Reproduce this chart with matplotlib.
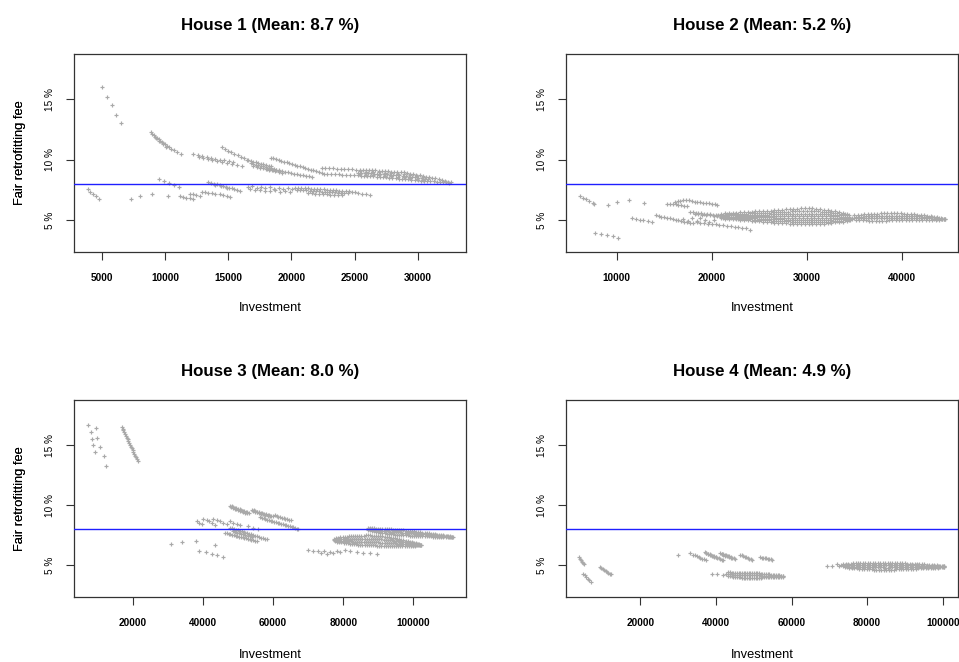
import matplotlib
matplotlib.use("Agg")
import matplotlib.pyplot as plt

plt.rcParams['font.family'] = ['Liberation Sans', 'DejaVu Sans']

# ---------------- titles / ticks ----------------
titles = ["House 1 (Mean: 8.7 %)", "House 2 (Mean: 5.2 %)",
          "House 3 (Mean: 8.0 %)", "House 4 (Mean: 4.9 %)"]
x_ticks = [[5000, 10000, 15000, 20000, 25000, 30000],
           [10000, 20000, 30000, 40000],
           [20000, 40000, 60000, 80000, 100000],
           [20000, 40000, 60000, 80000, 100000]]
y_ticks = [5, 10, 15]
y_tick_labels = ["5 %", "10 %", "15 %"]
reference_fee = 8.0

# ---------------- House 1 ----------------
h1_s1_x = [5000, 5400, 5790, 6130, 6530]
h1_s1_y = [15.99, 15.22, 14.50, 13.73, 13.07]
h1_s2_x = [3890, 4100, 4310, 4550, 4810]
h1_s2_y = [7.57, 7.35, 7.16, 6.99, 6.80]
h1_s3_x = [7300, 8030, 8980, 10270]
h1_s3_y = [6.77, 7.02, 7.18, 7.02]
h1_s4_x = [8880, 9000, 9120, 9250, 9380, 9500, 9620, 9750, 9880, 10000, 10150, 10300, 10500, 10700, 10950, 11300,
           9300, 9560, 9820, 10080]
h1_s4_y = [12.27, 12.15, 12.03, 11.92, 11.80, 11.69, 11.58, 11.47, 11.37, 11.27, 11.16, 11.05, 10.92, 10.80, 10.65, 10.47,
           11.77, 11.53, 11.31, 11.10]
h1_s5_x = [9560, 9950, 10350, 10750, 11140]
h1_s5_y = [8.43, 8.25, 8.08, 7.92, 7.76]
h1_s6_x = [11200, 11450, 11700, 11950, 12200, 12000, 12250, 12500, 12750]
h1_s6_y = [6.99, 6.93, 6.87, 6.83, 6.80, 7.21, 7.15, 7.08, 7.00]
h1_s8_x = [12910, 13200, 13440, 13700, 13970, 14360, 14620, 14890, 15150]
h1_s8_y = [7.35, 7.30, 7.27, 7.24, 7.21, 7.16, 7.10, 7.05, 6.96]
h1_s9_x = [12250, 12600, 12950, 13300, 13650, 14000, 14350, 14700, 15050, 15400,
           12700, 13050, 13400, 13750, 14100, 14500, 14900, 15300, 15700, 16100]
h1_s9_y = [10.47, 10.40, 10.33, 10.25, 10.18, 10.10, 10.02, 9.95, 9.87, 9.79,
           10.20, 10.12, 10.03, 9.95, 9.87, 9.78, 9.70, 9.62, 9.55, 9.48]
h1_s10_x = [14490, 14750, 15000, 15250, 15500, 15750, 16000, 16250, 16480]
h1_s10_y = [11.02, 10.88, 10.75, 10.62, 10.50, 10.37, 10.25, 10.12, 10.00]
h1_s11_x = [16600, 16800, 17000, 17200, 17400, 17600, 17800, 18000, 18200, 18400,
            16800, 17000, 17200, 17400, 17600, 17800, 18000, 18200, 18400, 18600, 18800, 19000,
            17000, 17250, 17500, 17750, 18000, 18250, 18500, 18750, 19000, 19250]
h1_s11_y = [9.95, 9.90, 9.84, 9.79, 9.73, 9.68, 9.62, 9.57, 9.51, 9.46,
            9.70, 9.65, 9.60, 9.55, 9.50, 9.45, 9.40, 9.35, 9.30, 9.25, 9.20, 9.15,
            9.45, 9.40, 9.35, 9.30, 9.25, 9.19, 9.13, 9.07, 9.01, 8.95]
h1_s12_x = [18370, 18580, 18790, 19000, 19210, 19420, 19640, 19850, 20060, 20270,
            20480, 20690, 20900, 21110, 21320, 21530, 21740, 21950, 22170, 22400]
h1_s12_y = [10.19, 10.12, 10.06, 9.99, 9.92, 9.86, 9.79, 9.72, 9.66, 9.59,
            9.52, 9.46, 9.39, 9.32, 9.26, 9.19, 9.12, 9.06, 8.99, 8.92]
h1_s13_x = [18050, 18290, 18520, 18760, 19000, 19240, 19470, 19710, 19950, 20180,
            20420, 20660, 20900, 21130, 21370, 21610]
h1_s13_y = [9.28, 9.23, 9.19, 9.14, 9.10, 9.05, 9.00, 8.96, 8.91, 8.87,
            8.82, 8.77, 8.73, 8.68, 8.64, 8.59]
h1_band_top_x = [22400, 22700, 23000, 23300, 23600, 23900, 24200, 24500, 24800, 25100,
                 25400, 25650, 25900, 26150, 26400, 26650, 26900, 27150, 27400, 27650,
                 27900, 28150, 28400, 28650, 28900, 29150, 29400, 29650, 29900, 30150,
                 30400, 30650, 30900, 31150, 31400, 31650, 31900, 32150, 32400, 32650]
h1_band_top_y = [9.35, 9.33, 9.32, 9.30, 9.28, 9.26, 9.25, 9.23, 9.21, 9.20,
                 9.18, 9.17, 9.15, 9.14, 9.13, 9.12, 9.10, 9.09, 9.07, 9.05,
                 9.03, 9.01, 9.00, 8.98, 8.96, 8.92, 8.87, 8.82, 8.77, 8.72,
                 8.67, 8.62, 8.57, 8.52, 8.47, 8.41, 8.34, 8.27, 8.20, 8.13]
h1_band_bot_x = [22550, 22850, 23150, 23450, 23750, 24050, 24350, 24650, 24950, 25250,
                 25500, 25750, 26000, 26250, 26500, 26750, 27000, 27250, 27500, 27750,
                 28000, 28250, 28500, 28750, 29000, 29250, 29500, 29750, 30000, 30250,
                 30500, 30750, 31000, 31250, 31500, 31750, 32000, 32250, 32500]
h1_band_bot_y = [8.86, 8.84, 8.82, 8.81, 8.79, 8.77, 8.75, 8.74, 8.72, 8.71,
                 8.69, 8.68, 8.66, 8.65, 8.63, 8.62, 8.60, 8.58, 8.55, 8.53,
                 8.50, 8.48, 8.45, 8.43, 8.40, 8.38, 8.35, 8.33, 8.30, 8.28,
                 8.27, 8.25, 8.23, 8.22, 8.20, 8.18, 8.16, 8.14, 8.12]
h1_band_mid_x = [25300, 25550, 25800, 26050, 26300, 26550, 26800, 27050, 27300, 27550,
                 27800, 28050, 28300, 28550, 28800, 29050, 29300, 29550, 29800, 30050,
                 30300, 30550, 30800]
h1_band_mid_y = [8.94, 8.93, 8.91, 8.90, 8.88, 8.87, 8.85, 8.84, 8.81, 8.79,
                 8.77, 8.75, 8.73, 8.71, 8.69, 8.66, 8.62, 8.58, 8.54, 8.50,
                 8.47, 8.44, 8.40]
h1_band_q_x = [25425, 25925, 26425, 26925, 27425, 27925, 28425, 28925, 29425, 29925, 30425]
h1_band_q1_y = [9.06, 9.03, 9.00, 8.97, 8.94, 8.90, 8.86, 8.82, 8.74, 8.65, 8.57]
h1_band_q3_y = [8.81, 8.78, 8.75, 8.72, 8.68, 8.64, 8.60, 8.55, 8.49, 8.42, 8.37]
h1_low_a_x = [16550, 16900, 17250, 17600, 17950, 18300, 18650, 19000, 19350, 19700, 20050]
h1_low_a_y = [7.72, 7.80, 7.70, 7.78, 7.66, 7.74, 7.62, 7.70, 7.60, 7.66, 7.58]
h1_low_b_x = [16700, 17100, 17500, 17900, 18300, 18700, 19100, 19500, 19900]
h1_low_b_y = [7.55, 7.48, 7.52, 7.45, 7.42, 7.48, 7.38, 7.44, 7.36]
h1_low_top_x = [20300, 20550, 20800, 21050, 21300, 21550, 21800, 22050, 22300, 22550,
                22800, 23050, 23300, 23550, 23800, 24050, 24300, 24550, 24800]
h1_low_top_y = [7.70, 7.68, 7.67, 7.65, 7.64, 7.62, 7.60, 7.59, 7.57, 7.55,
                7.53, 7.51, 7.49, 7.47, 7.45, 7.43, 7.41, 7.39, 7.37]
h1_low_mid_x = [20450, 20700, 20950, 21200, 21450, 21700, 21950, 22200, 22450, 22700,
                22950, 23200, 23450, 23700, 23950, 24200, 24450]
h1_low_mid_y = [7.52, 7.50, 7.49, 7.47, 7.45, 7.44, 7.42, 7.40, 7.38, 7.37,
                7.35, 7.33, 7.31, 7.29, 7.27, 7.25, 7.23]
h1_low_bot_x = [21300, 21600, 21900, 22200, 22500, 22800, 23100, 23400, 23700, 24000]
h1_low_bot_y = [7.25, 7.23, 7.21, 7.18, 7.16, 7.14, 7.12, 7.10, 7.08, 7.06]
h1_low_tail_x = [25000, 25300, 25600, 25900, 26200]
h1_low_tail_y = [7.30, 7.25, 7.20, 7.14, 7.08]
h1_s16_x = [13440, 13670, 13900, 14130, 14350, 14580, 14810, 15040, 15270, 15500, 15720, 15950,
            14000, 14450, 14900]
h1_s16_y = [8.18, 8.11, 8.04, 7.98, 7.91, 7.84, 7.77, 7.70, 7.63, 7.57, 7.50, 7.43,
            7.95, 7.82, 7.68]

# ---------------- House 2 ----------------
h2_g0_x = [6140, 6420, 6770, 7120, 7470, 7610]
h2_g0_y = [6.99, 6.88, 6.74, 6.60, 6.44, 6.33]
h2_g1_x = [9120, 10000, 11330, 12880]
h2_g1_y = [6.25, 6.52, 6.72, 6.39]
h2_g2_x = [7720, 8350, 8950, 9580, 10180]
h2_g2_y = [3.95, 3.87, 3.81, 3.70, 3.56]
h2_g3_x = [11580, 11980, 12400, 12800, 13250, 13690]
h2_g3_y = [5.18, 5.12, 5.06, 4.99, 4.92, 4.85]
h2_g4_x = [14100, 14400, 14700, 15000, 15300, 15600, 15900, 16200, 16500, 16800, 17100, 17400, 17700, 18000]
h2_g4_y = [5.40, 5.35, 5.30, 5.25, 5.20, 5.15, 5.10, 5.05, 5.00, 4.95, 4.90, 4.85, 4.80, 4.75]
h2_g5a_x = [16100, 16400, 16700, 17000, 17300, 17600, 17900, 18200, 18500, 18800, 19100, 19400, 19700, 20000, 20300, 20600]
h2_g5a_y = [6.50, 6.58, 6.63, 6.66, 6.70, 6.65, 6.58, 6.55, 6.52, 6.50, 6.47, 6.45, 6.42, 6.38, 6.33, 6.27]
h2_g5b_x = [15300, 15600, 15900, 16200, 16500, 16800, 17100, 17400]
h2_g5b_y = [6.38, 6.36, 6.34, 6.31, 6.28, 6.25, 6.22, 6.19]
h2_g6a_x = [17700, 18000, 18300, 18600, 18900, 19200, 19500, 19800, 20100, 20400, 20700, 21000, 21300, 21600]
h2_g6a_y = [5.69, 5.67, 5.64, 5.62, 5.59, 5.56, 5.53, 5.50, 5.47, 5.44, 5.41, 5.38, 5.35, 5.33]
h2_g6b_x = [18200, 18600, 19000, 19400, 19800, 20200, 20600, 21000]
h2_g6b_y = [5.55, 5.52, 5.48, 5.44, 5.40, 5.36, 5.32, 5.28]
h2_g7_x = [17000, 17500, 17900, 18400, 18800, 19300, 19700, 20200]
h2_g7_y = [5.10, 4.95, 5.18, 4.98, 5.22, 5.05, 4.85, 5.00]
h2_g8_x = [18400, 18800, 19200, 19600, 20000, 20400, 20800, 21200, 21600, 22000, 22400, 22800, 23200, 23600, 24040]
h2_g8_y = [4.85, 4.80, 4.76, 4.72, 4.69, 4.66, 4.62, 4.58, 4.54, 4.50, 4.46, 4.42, 4.38, 4.33, 4.24]
h2_lens_x = [21000, 21400, 21800, 22200, 22600, 23000, 23400, 23800, 24200, 24600,
             25000, 25400, 25800, 26200, 26600, 27000, 27400, 27800, 28200, 28600,
             29000, 29400, 29800, 30200, 30600, 31000, 31400, 31800, 32200, 32600,
             33000, 33400, 33800, 34200]
h2_lens_x2 = [21200, 21600, 22000, 22400, 22800, 23200, 23600, 24000, 24400, 24800,
              25200, 25600, 26000, 26400, 26800, 27200, 27600, 28000, 28400, 28800,
              29200, 29600, 30000, 30400, 30800, 31200, 31600, 32000, 32400, 32800,
              33200, 33600, 34000, 34400]
h2_lens_r1 = [5.55, 5.57, 5.59, 5.61, 5.63, 5.65, 5.67, 5.69, 5.71, 5.73,
              5.75, 5.77, 5.79, 5.81, 5.83, 5.85, 5.88, 5.90, 5.93, 5.95,
              5.97, 5.99, 6.00, 6.00, 5.98, 5.95, 5.92, 5.88, 5.84, 5.79,
              5.74, 5.68, 5.62, 5.55]
h2_lens_r2 = [5.48, 5.49, 5.50, 5.52, 5.53, 5.54, 5.56, 5.57, 5.58, 5.60,
              5.61, 5.62, 5.64, 5.65, 5.66, 5.68, 5.70, 5.71, 5.73, 5.74,
              5.76, 5.77, 5.78, 5.78, 5.76, 5.74, 5.72, 5.70, 5.67, 5.64,
              5.60, 5.56, 5.52, 5.48]
h2_lens_r3 = [5.40, 5.41, 5.42, 5.42, 5.43, 5.44, 5.44, 5.45, 5.46, 5.46,
              5.47, 5.48, 5.48, 5.49, 5.50, 5.50, 5.51, 5.52, 5.53, 5.54,
              5.54, 5.55, 5.55, 5.55, 5.55, 5.54, 5.53, 5.51, 5.50, 5.48,
              5.47, 5.45, 5.43, 5.40]
h2_lens_r4 = [5.30, 5.30, 5.31, 5.31, 5.32, 5.32, 5.33, 5.33, 5.33, 5.33,
              5.34, 5.34, 5.34, 5.34, 5.35, 5.35, 5.35, 5.35, 5.35, 5.35,
              5.35, 5.35, 5.35, 5.35, 5.35, 5.35, 5.34, 5.34, 5.33, 5.33,
              5.32, 5.31, 5.30, 5.30]
h2_low_x = [21200, 21600, 22000, 22400, 22800, 23200, 23600, 24000, 24400, 24800,
            25200, 25600, 26000, 26400, 26800, 27200, 27600, 28000, 28400, 28800,
            29200, 29600, 30000, 30400, 30800, 31200, 31600, 32000, 32400, 32800,
            33200, 33600, 34000, 34400, 34800]
h2_low_x2 = [21000, 21400, 21800, 22200, 22600, 23000, 23400, 23800, 24200, 24600,
             25000, 25400, 25800, 26200, 26600, 27000, 27400, 27800, 28200, 28600,
             29000, 29400, 29800, 30200, 30600, 31000, 31400, 31800, 32200, 32600,
             33000, 33400, 33800, 34200, 34600]
h2_low_r1 = [5.30, 5.30, 5.29, 5.29, 5.28, 5.28, 5.27, 5.27, 5.26, 5.26,
             5.25, 5.25, 5.24, 5.24, 5.23, 5.23, 5.22, 5.22, 5.21, 5.21,
             5.20, 5.20, 5.20, 5.20, 5.20, 5.20, 5.20, 5.20, 5.20, 5.20,
             5.20, 5.20, 5.20, 5.20, 5.20]
h2_low_r2 = [5.25, 5.24, 5.23, 5.22, 5.21, 5.20, 5.19, 5.18, 5.16, 5.15,
             5.14, 5.13, 5.11, 5.10, 5.09, 5.08, 5.07, 5.06, 5.05, 5.04,
             5.03, 5.02, 5.02, 5.02, 5.02, 5.03, 5.03, 5.04, 5.05, 5.06,
             5.07, 5.09, 5.10, 5.12, 5.13]
h2_low_r3 = [5.20, 5.19, 5.17, 5.16, 5.14, 5.12, 5.10, 5.08, 5.06, 5.04,
             5.02, 5.00, 4.99, 4.97, 4.95, 4.94, 4.92, 4.91, 4.89, 4.88,
             4.86, 4.85, 4.84, 4.84, 4.85, 4.85, 4.87, 4.88, 4.90, 4.92,
             4.95, 4.97, 5.00, 5.03, 5.07]
h2_low_r4 = [5.15, 5.13, 5.11, 5.09, 5.07, 5.04, 5.02, 4.99, 4.96, 4.93,
             4.91, 4.88, 4.86, 4.83, 4.81, 4.79, 4.77, 4.75, 4.73, 4.71,
             4.69, 4.67, 4.66, 4.66, 4.67, 4.68, 4.70, 4.72, 4.75, 4.78,
             4.82, 4.86, 4.90, 4.95, 5.00]
h2_rb_x = [35000, 35350, 35700, 36050, 36400, 36750, 37100, 37450, 37800, 38150,
           38500, 38850, 39200, 39550, 39900, 40250, 40600, 40950, 41300, 41650,
           42000, 42350, 42700, 43050, 43400, 43750, 44100, 44500]
h2_rb_x2 = [35175, 35525, 35875, 36225, 36575, 36925, 37275, 37625, 37975, 38325,
            38675, 39025, 39375, 39725, 40075, 40425, 40775, 41125, 41475, 41825,
            42175, 42525, 42875, 43225, 43575, 43925, 44275, 44550]
h2_rb_t = [5.40, 5.43, 5.46, 5.49, 5.51, 5.53, 5.55, 5.56, 5.57, 5.58,
           5.58, 5.58, 5.58, 5.58, 5.57, 5.56, 5.55, 5.53, 5.51, 5.48,
           5.45, 5.42, 5.38, 5.34, 5.29, 5.24, 5.18, 5.12]
h2_rb_m1 = [5.27, 5.29, 5.31, 5.32, 5.33, 5.35, 5.36, 5.37, 5.37, 5.38,
            5.38, 5.38, 5.39, 5.39, 5.38, 5.38, 5.37, 5.36, 5.35, 5.33,
            5.31, 5.29, 5.27, 5.24, 5.21, 5.18, 5.14, 5.11]
h2_rb_m2 = [5.15, 5.15, 5.15, 5.16, 5.16, 5.16, 5.17, 5.17, 5.18, 5.18,
            5.19, 5.19, 5.19, 5.19, 5.20, 5.19, 5.20, 5.19, 5.19, 5.18,
            5.18, 5.17, 5.16, 5.15, 5.14, 5.12, 5.11, 5.09]
h2_rb_b = [5.02, 5.01, 5.00, 4.99, 4.98, 4.98, 4.98, 4.98, 4.98, 4.98,
           4.99, 4.99, 5.00, 5.00, 5.01, 5.01, 5.02, 5.02, 5.03, 5.03,
           5.04, 5.04, 5.05, 5.05, 5.06, 5.06, 5.07, 5.08]

# ---------------- House 3 ----------------
h3_a1_x = [7250, 7920, 8300, 8590, 9060]
h3_a1_y = [16.66, 16.05, 15.50, 15.00, 14.39]
h3_a2_x = [9340, 9820, 10580, 11720, 12290]
h3_a2_y = [16.44, 15.61, 14.81, 14.09, 13.29]
h3_a3_x = [16770, 17010, 17250, 17490, 17730, 17970, 18210, 18450, 18690, 18930,
           19170, 19410, 19650, 19890, 20130, 20370, 20610, 20850, 21090, 21330]
h3_a3_y = [16.52, 16.37, 16.22, 16.07, 15.92, 15.77, 15.62, 15.47, 15.32, 15.17,
           15.02, 14.87, 14.72, 14.57, 14.42, 14.27, 14.12, 13.97, 13.82, 13.67]
h3_a4_x = [30750, 33890, 37890, 43400, 38930, 40740, 42550, 44070, 45590]
h3_a4_y = [6.77, 6.93, 7.04, 6.71, 6.16, 6.08, 5.94, 5.83, 5.66]
h3_seg1_x = [47700, 48150, 48600, 49050, 49500, 49950, 50400, 50850, 51300, 51750, 52200, 52650, 53100,
             48000, 48500, 49000, 49500, 50000, 50500, 51000, 51500, 52000, 52500]
h3_seg1_y = [9.94, 9.89, 9.84, 9.79, 9.74, 9.69, 9.64, 9.59, 9.54, 9.49, 9.44, 9.39, 9.34,
             9.82, 9.77, 9.71, 9.66, 9.60, 9.55, 9.49, 9.44, 9.38, 9.33]
h3_seg2_x = [53900, 54400, 54900, 55400, 55900, 56400, 56900, 57400, 57900, 58400, 58900, 59400, 59900,
             54200, 54800, 55400, 56000, 56600, 57200, 57800, 58400, 59000]
h3_seg2_y = [9.61, 9.56, 9.52, 9.47, 9.43, 9.38, 9.34, 9.29, 9.25, 9.20, 9.16, 9.11, 9.06,
             9.50, 9.45, 9.39, 9.34, 9.28, 9.23, 9.17, 9.12, 9.06]
h3_seg3_x = [60500, 61000, 61500, 62000, 62500, 63000, 63500, 64000, 64500, 65000]
h3_seg3_y = [9.14, 9.09, 9.05, 9.00, 8.96, 8.91, 8.87, 8.82, 8.78, 8.73]
h3_u2_x = [56250, 56750, 57250, 57750, 58250, 58750, 59250, 59750, 60250, 60750, 61250, 61750,
           62250, 62750, 63250, 63750, 64250, 64750, 65250, 65750, 66250, 66750, 67190]
h3_u2_y = [8.98, 8.94, 8.89, 8.85, 8.80, 8.76, 8.71, 8.67, 8.63, 8.58, 8.54, 8.49,
           8.45, 8.40, 8.36, 8.31, 8.27, 8.23, 8.18, 8.14, 8.09, 8.05, 8.01]
h3_sp_x = [38170, 38930, 39600, 40080, 41030, 41790, 42460, 43410, 42930, 43880,
           44830, 45790, 46740, 47690, 48640, 49590, 50540, 52920, 54350, 55780]
h3_sp_y = [8.65, 8.51, 8.43, 8.87, 8.79, 8.65, 8.51, 8.37, 8.84, 8.76,
           8.65, 8.51, 8.43, 8.65, 8.54, 8.43, 8.37, 8.23, 8.09, 8.01]
h3_l1_x = [47700, 48250, 48800, 49350, 49900, 50450, 51000, 51550, 52100, 52650,
           53200, 53750, 54300, 54850, 55400, 55950, 56500, 57050, 57600, 58150]
h3_l1_y = [8.12, 8.07, 8.02, 7.97, 7.92, 7.87, 7.81, 7.76, 7.71, 7.66,
           7.61, 7.56, 7.51, 7.46, 7.41, 7.35, 7.30, 7.25, 7.20, 7.15]
h3_l2_x = [46300, 46800, 47300, 47800, 48300, 48800, 49300, 49800, 50300, 50800,
           51300, 51800, 52300, 52800, 53300, 53800, 54300, 54800, 55300]
h3_l2_y = [7.70, 7.66, 7.62, 7.58, 7.54, 7.50, 7.46, 7.42, 7.38, 7.35,
           7.31, 7.27, 7.23, 7.19, 7.15, 7.11, 7.07, 7.03, 6.99]
h3_l3_x = [48500, 49100, 49700, 50300, 50900, 51500, 52100, 52700, 53300, 54000]
h3_l3_y = [7.82, 7.77, 7.72, 7.67, 7.62, 7.56, 7.51, 7.46, 7.41, 7.35]
h3_ru_x = [87000, 87600, 88200, 88800, 89400, 90000, 90600, 91200, 91800, 92400,
           93000, 93600, 94200, 94800, 95400, 96000, 96600, 97200, 97800, 98400,
           99000, 99600, 100200, 100800, 101400, 102000, 102600, 103200, 103800, 104400,
           105000, 105600, 106200, 106800, 107400, 108000, 108600, 109200, 109800, 110400, 111000]
h3_ru_x2 = [87300, 87900, 88500, 89100, 89700, 90300, 90900, 91500, 92100, 92700,
            93300, 93900, 94500, 95100, 95700, 96300, 96900, 97500, 98100, 98700,
            99300, 99900, 100500, 101100, 101700, 102300, 102900, 103500, 104100, 104700,
            105300, 105900, 106500, 107100, 107700, 108300, 108900, 109500, 110100, 110700, 111300]
h3_ru_top = [8.07, 8.07, 8.06, 8.06, 8.05, 8.05, 8.04, 8.03, 8.02, 8.01,
             8.00, 7.99, 7.97, 7.96, 7.94, 7.93, 7.91, 7.90, 7.88, 7.87,
             7.85, 7.83, 7.81, 7.79, 7.77, 7.75, 7.72, 7.70, 7.67, 7.65,
             7.62, 7.60, 7.57, 7.55, 7.52, 7.50, 7.48, 7.45, 7.43, 7.40, 7.38]
h3_ru_mid = [8.01, 7.99, 7.97, 7.94, 7.92, 7.90, 7.88, 7.86, 7.84, 7.82,
             7.80, 7.78, 7.77, 7.75, 7.74, 7.73, 7.71, 7.70, 7.69, 7.67,
             7.66, 7.65, 7.63, 7.62, 7.61, 7.59, 7.57, 7.56, 7.54, 7.53,
             7.51, 7.49, 7.48, 7.46, 7.45, 7.43, 7.41, 7.40, 7.38, 7.37, 7.35]
h3_ru_bot = [7.95, 7.91, 7.87, 7.83, 7.79, 7.75, 7.72, 7.69, 7.66, 7.63,
             7.60, 7.58, 7.57, 7.55, 7.54, 7.52, 7.51, 7.50, 7.49, 7.48,
             7.47, 7.46, 7.45, 7.45, 7.44, 7.43, 7.42, 7.42, 7.41, 7.41,
             7.40, 7.39, 7.38, 7.38, 7.37, 7.36, 7.35, 7.34, 7.34, 7.33, 7.32]
h3_rl_x = [77400, 78000, 78600, 79200, 79800, 80400, 81000, 81600, 82200, 82800,
           83400, 84000, 84600, 85200, 85800, 86400, 87000, 87600, 88200, 88800,
           89400, 90000, 90600, 91200, 91800, 92400, 93000, 93600, 94200, 94800,
           95400, 96000, 96600, 97200, 97800, 98400, 99000, 99600, 100200, 100800,
           101400, 102000]
h3_rl_x2 = [77700, 78300, 78900, 79500, 80100, 80700, 81300, 81900, 82500, 83100,
            83700, 84300, 84900, 85500, 86100, 86700, 87300, 87900, 88500, 89100,
            89700, 90300, 90900, 91500, 92100, 92700, 93300, 93900, 94500, 95100,
            95700, 96300, 96900, 97500, 98100, 98700, 99300, 99900, 100500, 101100,
            101700, 102300]
h3_rl_top = [7.20, 7.24, 7.28, 7.31, 7.34, 7.36, 7.38, 7.40, 7.41, 7.42,
             7.43, 7.44, 7.45, 7.46, 7.47, 7.48, 7.48, 7.48, 7.47, 7.46,
             7.45, 7.43, 7.41, 7.40, 7.38, 7.35, 7.32, 7.29, 7.26, 7.23,
             7.19, 7.16, 7.12, 7.08, 7.04, 7.00, 6.96, 6.92, 6.87, 6.82,
             6.77, 6.72]
h3_rl_m1 = [7.13, 7.15, 7.17, 7.18, 7.19, 7.19, 7.19, 7.20, 7.20, 7.20,
            7.20, 7.20, 7.20, 7.21, 7.21, 7.21, 7.21, 7.21, 7.20, 7.19,
            7.18, 7.17, 7.15, 7.14, 7.13, 7.11, 7.08, 7.06, 7.04, 7.02,
            6.99, 6.97, 6.94, 6.92, 6.89, 6.87, 6.84, 6.82, 6.79, 6.76,
            6.74, 6.71]
h3_rl_m2 = [7.07, 7.06, 7.05, 7.04, 7.03, 7.02, 7.01, 6.99, 6.98, 6.97,
            6.96, 6.96, 6.96, 6.95, 6.95, 6.95, 6.94, 6.93, 6.92, 6.92,
            6.91, 6.90, 6.89, 6.89, 6.87, 6.86, 6.85, 6.84, 6.82, 6.81,
            6.80, 6.78, 6.77, 6.75, 6.75, 6.73, 6.73, 6.72, 6.71, 6.71,
            6.70, 6.71]
h3_rl_bot = [7.00, 6.97, 6.94, 6.91, 6.88, 6.85, 6.82, 6.79, 6.77, 6.75,
             6.73, 6.72, 6.71, 6.70, 6.69, 6.68, 6.67, 6.66, 6.65, 6.65,
             6.64, 6.64, 6.63, 6.63, 6.62, 6.62, 6.61, 6.61, 6.60, 6.60,
             6.60, 6.59, 6.59, 6.59, 6.60, 6.60, 6.61, 6.62, 6.63, 6.65,
             6.67, 6.70]
h3_bs_x = [70050, 71480, 72900, 73660, 74520, 75280, 76230, 77180, 78140, 79090,
           80520, 81940, 83850, 85750, 87650, 89560]
h3_bs_y = [6.24, 6.22, 6.16, 6.02, 6.16, 5.97, 6.08, 6.00, 6.16, 6.08,
           6.24, 6.16, 6.11, 6.02, 6.02, 5.94]

# ---------------- House 4 ----------------
h4_b1_x = [3860, 4100, 4350, 4600, 4850, 5100]
h4_b1_y = [5.66, 5.54, 5.42, 5.30, 5.18, 5.06]
h4_b2_x = [4920, 5300, 5700, 6100, 6500, 6950]
h4_b2_y = [4.28, 4.16, 4.03, 3.89, 3.76, 3.62]
h4_b3_x = [9330, 9700, 10050, 10450, 10800, 11150, 11500, 11850, 12150]
h4_b3_y = [4.83, 4.76, 4.68, 4.60, 4.51, 4.44, 4.36, 4.29, 4.23]
h4_b4_x = [30050, 33140]
h4_b4_y = [5.88, 6.02]
h4_b5_x = [34020, 34500, 35000, 35450, 35900, 36400, 36900, 37370]
h4_b5_y = [5.88, 5.81, 5.74, 5.68, 5.61, 5.54, 5.48, 5.41]
h4_b6_x = [37110, 37510, 37910, 38310, 38710, 39110, 39510, 39910, 40310, 40710, 41110, 41510, 41960,
           37400, 37900, 38400, 38900, 39400, 39900]
h4_b6_y = [6.08, 6.02, 5.97, 5.91, 5.86, 5.80, 5.75, 5.69, 5.64, 5.58, 5.53, 5.47, 5.41,
           5.98, 5.92, 5.85, 5.79, 5.72, 5.66]
h4_b7_x = [41080, 41480, 41880, 42280, 42680, 43080, 43480, 43880, 44280, 44680, 45040,
           41500, 42000, 42500, 43000, 43500, 44000]
h4_b7_y = [6.02, 5.97, 5.92, 5.88, 5.83, 5.78, 5.74, 5.69, 5.64, 5.60, 5.55,
           5.92, 5.86, 5.80, 5.74, 5.68, 5.62]
h4_b8_x = [46370, 46800, 47200, 47600, 48000, 48400, 48800, 49200, 49450]
h4_b8_y = [5.88, 5.82, 5.78, 5.72, 5.66, 5.60, 5.55, 5.50, 5.47]
h4_b9_x = [51660, 52100, 52500, 52900, 53300, 53700, 54100, 54500, 54740]
h4_b9_y = [5.66, 5.62, 5.60, 5.58, 5.56, 5.53, 5.50, 5.48, 5.47]
h4_lsp_x = [38870, 40190, 41780, 42600]
h4_lsp_y = [4.23, 4.23, 4.17, 4.28]
h4_lb_x = [43300, 43750, 44200, 44650, 45100, 45550, 46000, 46450, 46900, 47350,
           47800, 48250, 48700, 49150, 49600, 50050, 50500, 50950, 51400, 51850,
           52300, 52750, 53200, 53650, 54100, 54550, 55000, 55450, 55900, 56350,
           56800, 57250, 57700]
h4_lb_top = [4.40, 4.40, 4.39, 4.39, 4.39, 4.38, 4.38, 4.38, 4.38, 4.37,
             4.37, 4.37, 4.37, 4.36, 4.36, 4.36, 4.35, 4.33, 4.32, 4.31,
             4.29, 4.28, 4.27, 4.25, 4.24, 4.22, 4.21, 4.20, 4.18, 4.17,
             4.16, 4.14, 4.13]
h4_lb_mid = [4.26, 4.25, 4.23, 4.22, 4.21, 4.19, 4.19, 4.18, 4.18, 4.17,
             4.17, 4.17, 4.17, 4.16, 4.16, 4.16, 4.16, 4.15, 4.15, 4.14,
             4.14, 4.13, 4.13, 4.12, 4.12, 4.11, 4.11, 4.11, 4.10, 4.10,
             4.10, 4.09, 4.09]
h4_lb_bot = [4.12, 4.09, 4.07, 4.04, 4.02, 4.00, 3.99, 3.98, 3.97, 3.97,
             3.96, 3.96, 3.96, 3.96, 3.96, 3.96, 3.96, 3.97, 3.97, 3.97,
             3.98, 3.98, 3.99, 3.99, 4.00, 4.00, 4.01, 4.01, 4.02, 4.02,
             4.03, 4.04, 4.05]
h4_rsp_x = [69290, 70610, 71940, 72600, 73100]
h4_rsp_y = [4.92, 4.97, 5.06, 4.95, 5.02]
h4_rb_x = [73700, 74350, 75000, 75650, 76300, 76950, 77600, 78250, 78900, 79550,
           80200, 80850, 81500, 82150, 82800, 83450, 84100, 84750, 85400, 86050,
           86700, 87350, 88000, 88650, 89300, 89950, 90600, 91250, 91900, 92550,
           93200, 93850, 94500, 95150, 95800, 96450, 97100, 97750, 98400, 99050,
           99700, 100350]
h4_rb_x2 = [74025, 74675, 75325, 75975, 76625, 77275, 77925, 78575, 79225, 79875,
            80525, 81175, 81825, 82475, 83125, 83775, 84425, 85075, 85725, 86375,
            87025, 87675, 88325, 88975, 89625, 90275, 90925, 91575, 92225, 92875,
            93525, 94175, 94825, 95475, 96125, 96775, 97425, 98075, 98725, 99375,
            100025, 100300]
h4_rb_top = [5.10, 5.11, 5.13, 5.14, 5.15, 5.16, 5.17, 5.18, 5.19, 5.20,
             5.20, 5.20, 5.20, 5.20, 5.20, 5.20, 5.20, 5.20, 5.20, 5.19,
             5.19, 5.18, 5.17, 5.17, 5.16, 5.15, 5.14, 5.13, 5.12, 5.11,
             5.10, 5.09, 5.08, 5.07, 5.05, 5.04, 5.02, 5.00, 4.99, 4.97,
             4.95, 4.92]
h4_rb_m1 = [5.02, 5.01, 5.02, 5.02, 5.02, 5.02, 5.02, 5.02, 5.02, 5.02,
            5.02, 5.02, 5.01, 5.01, 5.01, 5.01, 5.01, 5.01, 5.01, 5.00,
            5.01, 5.00, 5.00, 5.00, 5.00, 4.99, 4.99, 4.99, 4.98, 4.98,
            4.98, 4.97, 4.97, 4.96, 4.95, 4.95, 4.94, 4.93, 4.93, 4.92,
            4.91, 4.90]
h4_rb_m2 = [4.93, 4.92, 4.90, 4.89, 4.88, 4.87, 4.86, 4.85, 4.84, 4.84,
            4.83, 4.83, 4.83, 4.83, 4.82, 4.82, 4.82, 4.81, 4.81, 4.82,
            4.82, 4.83, 4.83, 4.84, 4.84, 4.84, 4.84, 4.84, 4.85, 4.85,
            4.85, 4.86, 4.85, 4.86, 4.86, 4.86, 4.87, 4.87, 4.87, 4.87,
            4.88, 4.87]
h4_rb_bot = [4.85, 4.82, 4.79, 4.77, 4.75, 4.73, 4.71, 4.69, 4.67, 4.66,
             4.65, 4.65, 4.64, 4.64, 4.63, 4.63, 4.63, 4.62, 4.62, 4.63,
             4.64, 4.65, 4.66, 4.67, 4.67, 4.68, 4.69, 4.70, 4.71, 4.72,
             4.73, 4.74, 4.74, 4.75, 4.76, 4.77, 4.79, 4.80, 4.81, 4.82,
             4.84, 4.85]


def gather(pairs):
    xs, ys = [], []
    for x, y in pairs:
        assert len(x) == len(y), (len(x), len(y))
        xs += list(x)
        ys += list(y)
    return xs, ys


h1 = gather([(h1_s1_x, h1_s1_y), (h1_s2_x, h1_s2_y), (h1_s3_x, h1_s3_y), (h1_s4_x, h1_s4_y),
             (h1_s5_x, h1_s5_y), (h1_s6_x, h1_s6_y), (h1_s8_x, h1_s8_y), (h1_s9_x, h1_s9_y),
             (h1_s10_x, h1_s10_y), (h1_s11_x, h1_s11_y), (h1_s12_x, h1_s12_y), (h1_s13_x, h1_s13_y),
             (h1_band_top_x, h1_band_top_y), (h1_band_bot_x, h1_band_bot_y),
             (h1_band_mid_x, h1_band_mid_y), (h1_band_q_x, h1_band_q1_y), (h1_band_q_x, h1_band_q3_y),
             (h1_low_a_x, h1_low_a_y), (h1_low_b_x, h1_low_b_y), (h1_low_top_x, h1_low_top_y),
             (h1_low_mid_x, h1_low_mid_y), (h1_low_bot_x, h1_low_bot_y), (h1_low_tail_x, h1_low_tail_y),
             (h1_s16_x, h1_s16_y)])
h2 = gather([(h2_g0_x, h2_g0_y), (h2_g1_x, h2_g1_y), (h2_g2_x, h2_g2_y), (h2_g3_x, h2_g3_y),
             (h2_g4_x, h2_g4_y), (h2_g5a_x, h2_g5a_y), (h2_g5b_x, h2_g5b_y), (h2_g6a_x, h2_g6a_y),
             (h2_g6b_x, h2_g6b_y), (h2_g7_x, h2_g7_y), (h2_g8_x, h2_g8_y),
             (h2_lens_x, h2_lens_r1), (h2_lens_x2, h2_lens_r2), (h2_lens_x, h2_lens_r3), (h2_lens_x2, h2_lens_r4),
             (h2_low_x, h2_low_r1), (h2_low_x2, h2_low_r2), (h2_low_x, h2_low_r3), (h2_low_x2, h2_low_r4),
             (h2_rb_x, h2_rb_t), (h2_rb_x2, h2_rb_m1), (h2_rb_x, h2_rb_m2), (h2_rb_x2, h2_rb_b)])
h3 = gather([(h3_a1_x, h3_a1_y), (h3_a2_x, h3_a2_y), (h3_a3_x, h3_a3_y), (h3_a4_x, h3_a4_y),
             (h3_seg1_x, h3_seg1_y), (h3_seg2_x, h3_seg2_y), (h3_seg3_x, h3_seg3_y), (h3_u2_x, h3_u2_y),
             (h3_sp_x, h3_sp_y), (h3_l1_x, h3_l1_y), (h3_l2_x, h3_l2_y), (h3_l3_x, h3_l3_y),
             (h3_ru_x, h3_ru_top), (h3_ru_x2, h3_ru_mid), (h3_ru_x, h3_ru_bot),
             (h3_rl_x, h3_rl_top), (h3_rl_x2, h3_rl_m1), (h3_rl_x, h3_rl_m2), (h3_rl_x2, h3_rl_bot),
             (h3_bs_x, h3_bs_y)])
h4 = gather([(h4_b1_x, h4_b1_y), (h4_b2_x, h4_b2_y), (h4_b3_x, h4_b3_y), (h4_b4_x, h4_b4_y),
             (h4_b5_x, h4_b5_y), (h4_b6_x, h4_b6_y), (h4_b7_x, h4_b7_y), (h4_b8_x, h4_b8_y),
             (h4_b9_x, h4_b9_y), (h4_lsp_x, h4_lsp_y),
             (h4_lb_x, h4_lb_top), (h4_lb_x, h4_lb_mid), (h4_lb_x, h4_lb_bot),
             (h4_rsp_x, h4_rsp_y),
             (h4_rb_x, h4_rb_top), (h4_rb_x2, h4_rb_m1), (h4_rb_x, h4_rb_m2), (h4_rb_x2, h4_rb_bot)])
houses = [h1, h2, h3, h4]

# ---------------- layout ----------------
W, H = 959, 662
panel_px = [(74, 54, 466, 252), (566, 54, 958, 252),
            (74, 400, 466, 596.7), (566, 400, 958, 596.7)]
x_limits = [(2810, 33820), (4663, 45926), (3162, 115040), (339, 104050)]
y_limits = (2.38, 18.75)
xlabel_y = [(252 - 308.5) / 198, (252 - 308.5) / 198, (596.7 - 655) / 196.7, (596.7 - 655) / 196.7]

fig = plt.figure(figsize=(W / 100, H / 100), dpi=100)
frame_col = '#333333'
for i in range(4):
    l, t, r, b = panel_px[i]
    ax = fig.add_axes([l / W, 1 - b / H, (r - l) / W, (b - t) / H])
    inv, fee = houses[i]
    ax.plot(inv, fee, linestyle='none', marker='+', markersize=3.0, markeredgewidth=0.85,
            color='#a9a9a9', zorder=2)
    ax.axhline(reference_fee, color='#1f1fff', linewidth=1.0, zorder=3)
    ax.set_xlim(*x_limits[i])
    ax.set_ylim(*y_limits)
    ax.set_yticks(y_ticks)
    ax.set_yticklabels(y_tick_labels, rotation=90, va='center', fontsize=7.2)
    ax.set_xticks(x_ticks[i])
    ax.set_xticklabels([str(v) for v in x_ticks[i]], fontweight='bold', fontsize=7.2)
    ax.tick_params(axis='both', length=5.6, width=0.8, color=frame_col)
    ax.tick_params(axis='x', pad=9.7)
    ax.tick_params(axis='y', pad=8.0)
    for s in ax.spines.values():
        s.set_color(frame_col)
        s.set_linewidth(0.9)
    ax.set_title(titles[i], fontsize=12.2, fontweight='bold', pad=17.3)
    ax.set_xlabel('Investment', fontsize=9.3, va='center')
    ax.xaxis.set_label_coords(0.5, xlabel_y[i])
    ax.set_ylabel('Fair retrofitting fee', fontsize=9.3, va='center')
    ax.yaxis.set_label_coords((20 - l) / (r - l), 0.5)

fig.savefig('out.png', dpi=100)
